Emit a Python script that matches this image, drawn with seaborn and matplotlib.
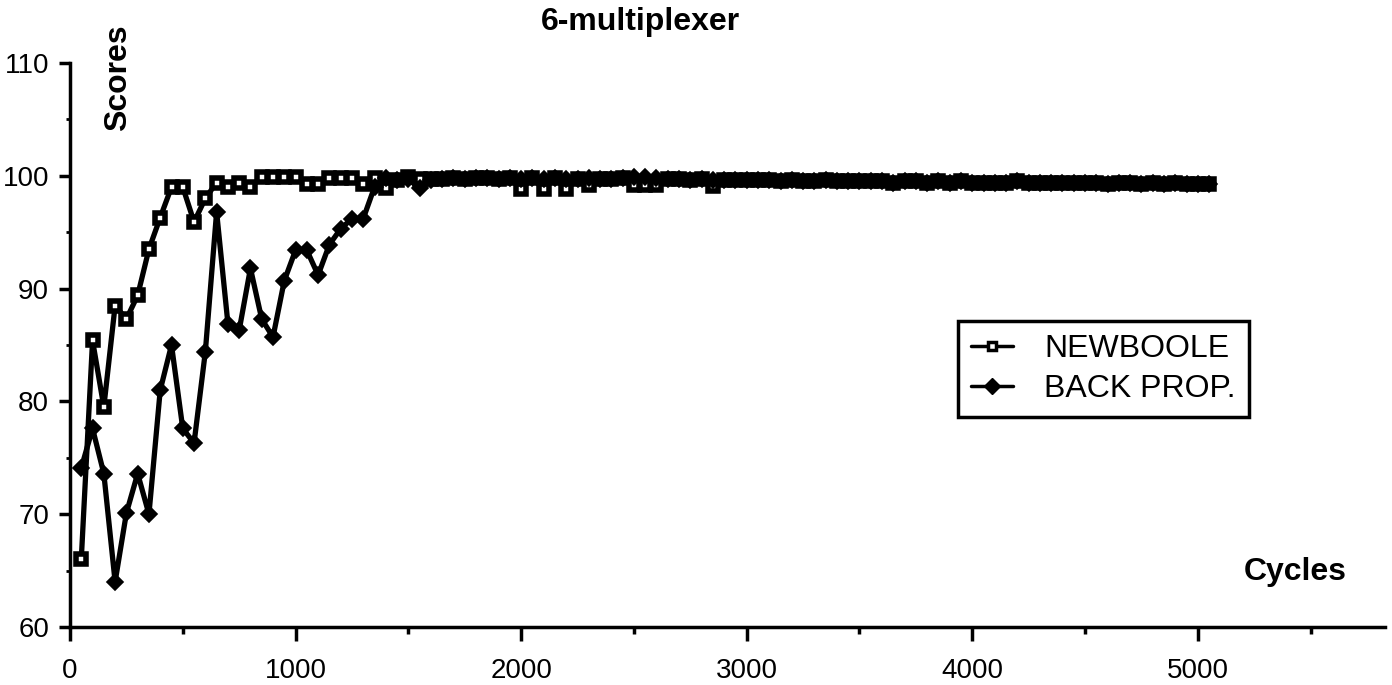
import matplotlib
matplotlib.use("Agg")
import matplotlib.pyplot as plt
from matplotlib.lines import Line2D
from matplotlib.ticker import MultipleLocator
import seaborn as sns
import pandas as pd

# ---------------- data ----------------
cycles = list(range(50, 5051, 50))

newboole = [
    66.0, 85.4, 79.5, 88.5, 87.3, 89.4, 93.5, 96.3, 99.0, 99.0,
    95.9, 98.0, 99.4, 99.0, 99.4, 99.0, 99.9, 99.9, 99.9, 99.9,
    99.3, 99.3, 99.8, 99.8, 99.8, 99.3, 99.8, 98.9, 99.6, 99.9,
    99.7, 99.7, 99.7, 99.8, 99.7, 99.8, 99.8, 99.7, 99.8, 98.8,
    99.8, 98.8, 99.8, 98.8, 99.7, 99.2, 99.7, 99.7, 99.8, 99.2,
    99.2, 99.2, 99.7, 99.7, 99.6, 99.7, 99.1, 99.6, 99.6, 99.6,
    99.6, 99.6, 99.5, 99.6, 99.5, 99.5, 99.6, 99.5, 99.5, 99.5,
    99.5, 99.5, 99.4, 99.5, 99.5, 99.4, 99.5, 99.4, 99.5, 99.4,
    99.4, 99.4, 99.4, 99.5, 99.4, 99.4, 99.4, 99.4, 99.4, 99.4,
    99.4, 99.3, 99.4, 99.4, 99.3, 99.4, 99.3, 99.4, 99.3, 99.3, 99.3,
]

back_prop = [
    74.1, 77.6, 73.6, 64.0, 70.1, 73.6, 70.0, 81.0, 85.0, 77.6,
    76.3, 84.4, 96.8, 86.9, 86.3, 91.8, 87.3, 85.7, 90.7, 93.4,
    93.4, 91.2, 93.9, 95.3, 96.2, 96.2, 99.0, 99.8, 99.6, 99.7,
    98.9, 99.6, 99.7, 99.8, 99.7, 99.8, 99.8, 99.7, 99.8, 99.7,
    99.8, 99.7, 99.8, 99.7, 99.7, 99.8, 99.7, 99.7, 99.8, 99.9,
    99.9, 99.8, 99.7, 99.7, 99.6, 99.7, 99.6, 99.6, 99.6, 99.6,
    99.6, 99.6, 99.5, 99.6, 99.5, 99.5, 99.6, 99.5, 99.5, 99.5,
    99.5, 99.5, 99.4, 99.5, 99.5, 99.4, 99.5, 99.4, 99.5, 99.4,
    99.4, 99.4, 99.4, 99.5, 99.4, 99.4, 99.4, 99.4, 99.4, 99.4,
    99.4, 99.3, 99.4, 99.4, 99.3, 99.4, 99.3, 99.4, 99.3, 99.3, 99.3,
]

series_names = ["NEWBOOLE", "BACK PROP."]
title = "6-multiplexer"
y_label = "Scores"
x_label = "Cycles"

df_nb = pd.DataFrame({"Cycles": cycles, "Score": newboole})
df_bp = pd.DataFrame({"Cycles": cycles, "Score": back_prop})

# ---------------- style ----------------
sns.set_style("ticks")
plt.rcParams["font.family"] = ["Liberation Sans", "DejaVu Sans"]
plt.rcParams["text.color"] = "black"
plt.rcParams["axes.labelcolor"] = "black"
plt.rcParams["xtick.color"] = "black"
plt.rcParams["ytick.color"] = "black"

fig = plt.figure(figsize=(13.92, 6.85), dpi=100)
ax = fig.add_axes([70 / 1392, 58 / 685, (1385 - 70) / 1392, (627 - 63) / 685])

sns.lineplot(data=df_nb, x="Cycles", y="Score", ax=ax, color="black",
             linewidth=3.8, marker="s", markersize=7.5, markerfacecolor="white",
             markeredgecolor="black", markeredgewidth=4, sort=False,
             estimator=None, zorder=3)
sns.lineplot(data=df_bp, x="Cycles", y="Score", ax=ax, color="black",
             linewidth=3.8, marker="D", markersize=8, markerfacecolor="black",
             markeredgecolor="black", markeredgewidth=1.2, sort=False,
             estimator=None, zorder=4)

ax.set_xlim(0, 5830)
ax.set_ylim(60, 110)
ax.xaxis.set_major_locator(MultipleLocator(1000))
ax.xaxis.set_minor_locator(MultipleLocator(500))
ax.yaxis.set_major_locator(MultipleLocator(10))
ax.yaxis.set_minor_locator(MultipleLocator(5))
ax.tick_params(axis="x", which="major", direction="out", length=10, width=2.5,
               pad=12, labelsize=20, colors="black")
ax.tick_params(axis="x", which="minor", direction="out", length=5, width=2.5)
ax.tick_params(axis="y", which="major", direction="out", length=8, width=2.5,
               pad=7, labelsize=20, colors="black")
ax.tick_params(axis="y", which="minor", direction="out", length=3, width=2)
ax.set_xlabel("")
ax.set_ylabel("")
sns.despine(ax=ax)
for sp in ("left", "bottom"):
    ax.spines[sp].set_linewidth(2.5)
    ax.spines[sp].set_color("black")

fig.text(640 / 1392, 1 - 22 / 685, title, ha="center", va="center",
         fontsize=23, fontweight="bold", color="black")
fig.text(118 / 1392, 1 - 78 / 685, y_label, ha="center", va="center",
         rotation=90, fontsize=23, fontweight="bold", color="black")
fig.text(1295 / 1392, 1 - 572 / 685, x_label, ha="center", va="center",
         fontsize=23, fontweight="bold", color="black")

handles = [
    Line2D([], [], color="black", linewidth=2.5, marker="s", markersize=6,
           markerfacecolor="white", markeredgecolor="black", markeredgewidth=2.5),
    Line2D([], [], color="black", linewidth=2.5, marker="D", markersize=8,
           markerfacecolor="black", markeredgecolor="black"),
]
leg = fig.legend(handles, series_names, loc="center",
                 bbox_to_anchor=(1103.5 / 1392, 1 - 369 / 685),
                 fontsize=23, frameon=True, fancybox=False, framealpha=1,
                 edgecolor="black", handlelength=1.3, handletextpad=1.0,
                 labelspacing=0.3, borderpad=0.4)
leg.get_frame().set_linewidth(2.5)

fig.savefig("out.png", dpi=100, facecolor="white")
